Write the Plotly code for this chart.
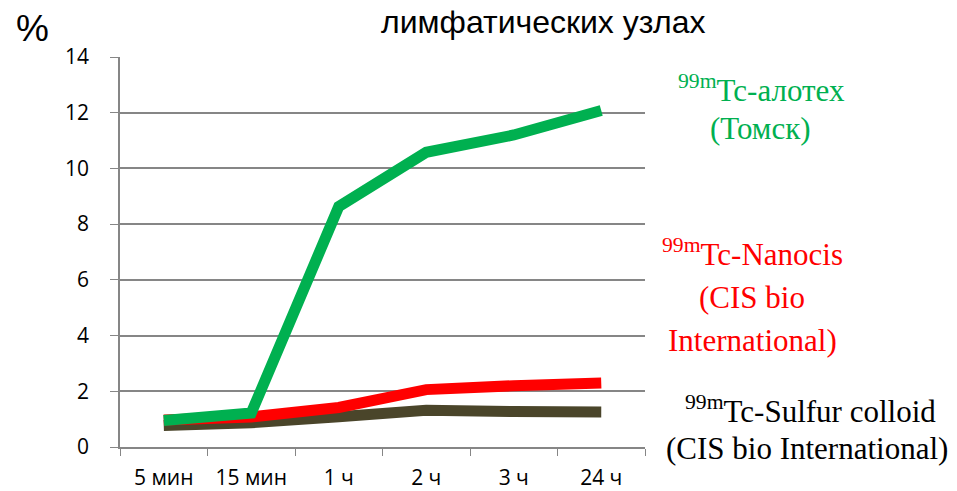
import plotly.graph_objects as go

categories = ["5 мин", "15 мин", "1 ч", "2 ч", "3 ч", "24 ч"]
alotech = [0.95, 1.22, 8.63, 10.58, 11.2, 12.08]
nanocis = [0.97, 1.08, 1.42, 2.06, 2.2, 2.3]
sulfur = [0.77, 0.87, 1.09, 1.32, 1.27, 1.26]
y_ticks = [0, 2, 4, 6, 8, 10, 12, 14]

GREEN = "#00B050"
RED = "#FF0000"
DARK = "#4A452A"
GRID = "#868686"

fig = go.Figure()
for vals, col in [(sulfur, DARK), (nanocis, RED), (alotech, GREEN)]:
    fig.add_trace(go.Scatter(x=categories, y=vals, mode="lines",
                             line=dict(color=col, width=11),
                             showlegend=False, hoverinfo="skip"))

font_family = "Open Sans, Noto Sans, sans-serif"
fig.update_layout(
    width=957, height=491,
    margin=dict(l=120, r=312, t=57, b=44),
    plot_bgcolor="white", paper_bgcolor="white",
    xaxis=dict(type="category", range=[-0.5, 5.5], showgrid=False, automargin=False,
               showline=True, linecolor=GRID, linewidth=1.5,
               ticks="outside", tickson="boundaries", ticklen=7, tickcolor=GRID,
               tickfont=dict(family=font_family, size=21, color="#000"),
               ticklabelstandoff=11, fixedrange=True),
    yaxis=dict(range=[0, 14], tickvals=y_ticks, showgrid=True, gridcolor=GRID,
               gridwidth=1.5, showline=True, linecolor=GRID, linewidth=1.5, automargin=False,
               ticks="outside", ticklen=8, tickcolor=GRID, zeroline=False,
               tickfont=dict(family=font_family, size=21, color="#000"),
               ticklabelstandoff=17, fixedrange=True),
)

serif = "Liberation Serif, Times New Roman, serif"
sans = "Liberation Sans, Arial, sans-serif"
ann = [
    dict(text="%", x=32, y=28, size=37, color="#000", family=sans),
    dict(text="лимфатических узлах", x=543, y=22, size=32, color="#000", family=sans),
    dict(text="<sup>99m</sup>Tc-алотех", x=761, y=88, size=31, color=GREEN, family=serif),
    dict(text="(Томск)", x=760, y=128, size=31, color=GREEN, family=serif),
    dict(text="<sup>99m</sup>Tc-Nanocis", x=752, y=252, size=31, color=RED, family=serif),
    dict(text="(CIS bio", x=752, y=297, size=31, color=RED, family=serif),
    dict(text="International)", x=752, y=340, size=31, color=RED, family=serif),
    dict(text="<sup>99m</sup>Tc-Sulfur colloid", x=810, y=409, size=31, color="#000", family=serif),
    dict(text="(CIS bio International)", x=807, y=448, size=31, color="#000", family=serif),
]
for a in ann:
    fig.add_annotation(text=a["text"], xref="paper", yref="paper",
                       x=(a["x"] - 120) / (957 - 120 - 312),
                       y=(491 - 44 - a["y"]) / (491 - 57 - 44),
                       xanchor="center", yanchor="middle", showarrow=False,
                       font=dict(size=a["size"], color=a["color"], family=a["family"]))

fig.write_html("out.html")
